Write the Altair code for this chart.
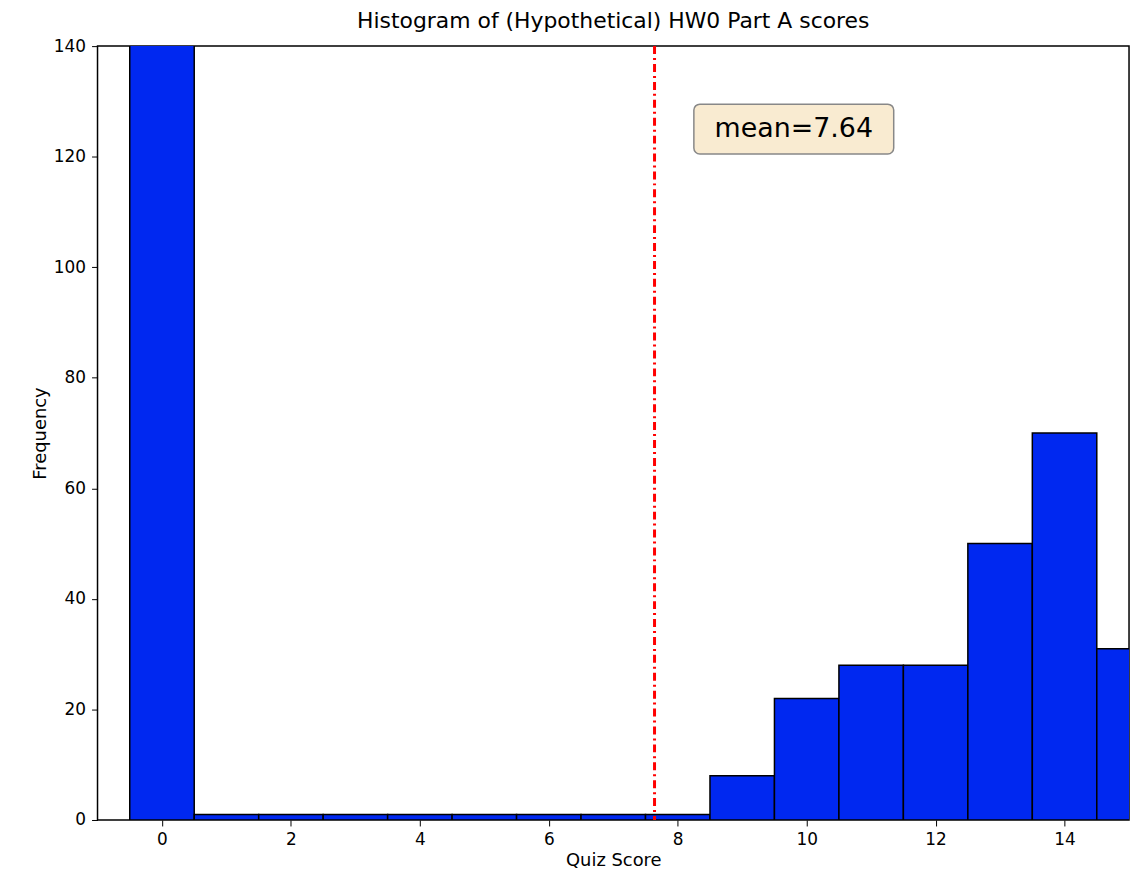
import altair as alt
import pandas as pd

scores = list(range(0, 16))
counts = [160, 1, 1, 1, 1, 1, 1, 1, 1, 8, 22, 28, 28, 50, 70, 31]
mean_score = 7.64
label_text = ["mean=7.64"]
label_box = {"x": [8.25], "x2": [11.35], "y": [120.5], "y2": [129.5]}

df = pd.DataFrame({"lo": [s - 0.5 for s in scores], "hi": [s + 0.5 for s in scores], "count": counts})

xs = alt.Scale(domain=[-1, 15], nice=False, zero=False)
ys = alt.Scale(domain=[0, 140], nice=False)

bars = alt.Chart(df).mark_rect(color="#0028f0", stroke="black", strokeWidth=1.5, clip=True).encode(
    x=alt.X("lo:Q", scale=xs, title="Quiz Score",
            axis=alt.Axis(values=[0, 2, 4, 6, 8, 10, 12, 14], format="d")),
    x2="hi:Q",
    y=alt.Y("count:Q", scale=ys, title="Frequency",
            axis=alt.Axis(values=[0, 20, 40, 60, 80, 100, 120, 140])),
    y2=alt.datum(0),
)

mean_line = alt.Chart(pd.DataFrame({"m": [mean_score]})).mark_rule(
    color="red", strokeWidth=3, strokeDash=[8, 4, 2, 4]
).encode(x="m:Q")

box = alt.Chart(pd.DataFrame(label_box)).mark_rect(
    fill="#f5deb3", fillOpacity=0.6, stroke="#888888", strokeWidth=1.5, cornerRadius=6
).encode(x="x:Q", x2="x2:Q", y="y:Q", y2="y2:Q")

label = alt.Chart(pd.DataFrame({"x": [9.8], "y": [125], "t": label_text})).mark_text(
    fontSize=27, font="DejaVu Sans", color="black"
).encode(x="x:Q", y="y:Q", text="t:N")

chart = (bars + mean_line + box + label).properties(
    width=1037, height=778,
    padding={"left": 23, "top": 0, "right": 5, "bottom": 5},
    title=alt.Title("Histogram of (Hypothetical) HW0 Part A scores", fontSize=22,
                    font="DejaVu Sans", fontWeight="normal", offset=4),
    background="white",
).configure_view(stroke="black", strokeWidth=1.5).configure_axis(
    grid=False, labelFont="DejaVu Sans", titleFont="DejaVu Sans",
    labelFontSize=17, titleFontSize=18, titleFontWeight="normal",
    labelColor="black", titleColor="black", domain=False, tickColor="black",
    tickSize=6, labelPadding=6,
)

chart.save("out.html", embed_options={"renderer": "svg", "actions": False})
